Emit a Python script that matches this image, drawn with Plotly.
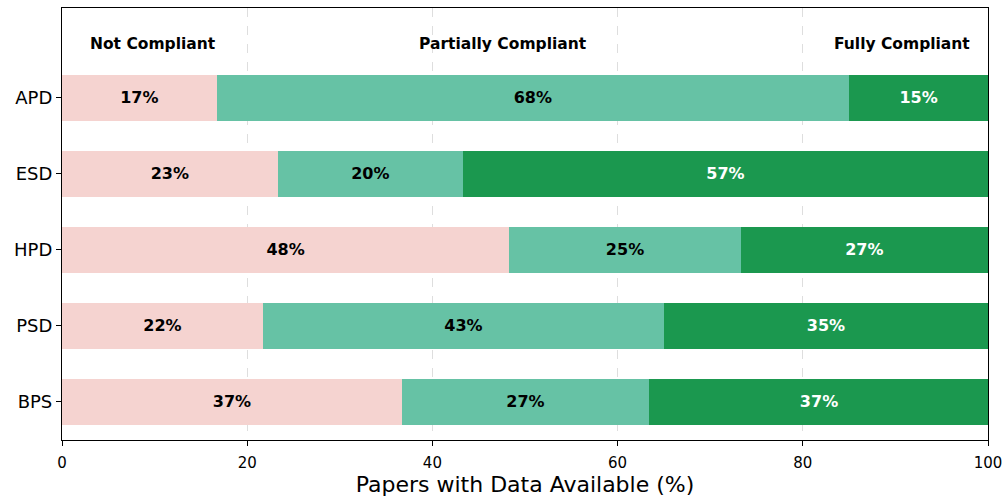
import plotly.graph_objects as go

categories = ["APD", "ESD", "HPD", "PSD", "BPS"]
not_compliant = [16.7, 23.3, 48.3, 21.7, 36.7]
partially_compliant = [68.3, 20.0, 25.0, 43.3, 26.7]
fully_compliant = [15.0, 56.7, 26.7, 35.0, 36.7]
series_names = ["Not Compliant", "Partially Compliant", "Fully Compliant"]
header_x = [9.8, 47.6, 90.7]
x_ticks = [0, 20, 40, 60, 80, 100]

colors = ["#f5d3d0", "#66c2a5", "#1b984f"]
text_colors = ["black", "black", "white"]

ypos = list(range(len(categories) - 1, -1, -1))

fig = go.Figure()
for name, vals, col, tcol in zip(series_names,
                                 [not_compliant, partially_compliant, fully_compliant],
                                 colors, text_colors):
    fig.add_trace(go.Bar(
        y=ypos, x=vals, orientation="h", width=0.6, name=name,
        marker=dict(color=col, line=dict(width=0)),
        text=[f"{round(v):d}%" for v in vals],
        textposition="inside", insidetextanchor="middle",
        textfont=dict(family="DejaVu Sans", size=16, color=tcol, weight="bold"),
        textangle=0, showlegend=False,
    ))

for name, hx in zip(series_names, header_x):
    fig.add_annotation(x=hx, y=4.71, text=f"<b>{name}</b>", showarrow=False,
                       font=dict(family="DejaVu Sans", size=15.5, color="black"),
                       xanchor="center", yanchor="middle")

fig.update_layout(
    barmode="stack",
    width=1005, height=500,
    margin=dict(l=62, r=17, t=8, b=60, autoexpand=False),
    paper_bgcolor="white", plot_bgcolor="white",
    font=dict(family="DejaVu Sans", color="black"),
    uniformtext=dict(mode=False),
)
fig.update_xaxes(
    range=[0, 100], tickvals=x_ticks, ticktext=[str(t) for t in x_ticks],
    showgrid=True, gridcolor="rgba(200,200,200,0.6)", griddash="dash", gridwidth=1,
    showline=True, linecolor="black", linewidth=1.2, mirror=True,
    ticks="outside", ticklen=5, tickcolor="black", ticklabelstandoff=4,
    tickfont=dict(size=15), zeroline=False, layer="above traces",
    automargin=False,
    title=dict(text="Papers with Data Available (%)", font=dict(size=22), standoff=4),
)
fig.update_yaxes(
    range=[-0.5, 5.18], tickvals=ypos, ticktext=categories,
    showgrid=False, showline=True, linecolor="black", linewidth=1.2, mirror=True,
    ticks="outside", ticklen=5, tickcolor="black", tickfont=dict(size=18),
    zeroline=False, automargin=False,
)

fig.write_html(
    "out.html",
    config={"displayModeBar": False},
    post_script="document.body.style.margin='0';document.body.style.overflow='hidden';",
)
